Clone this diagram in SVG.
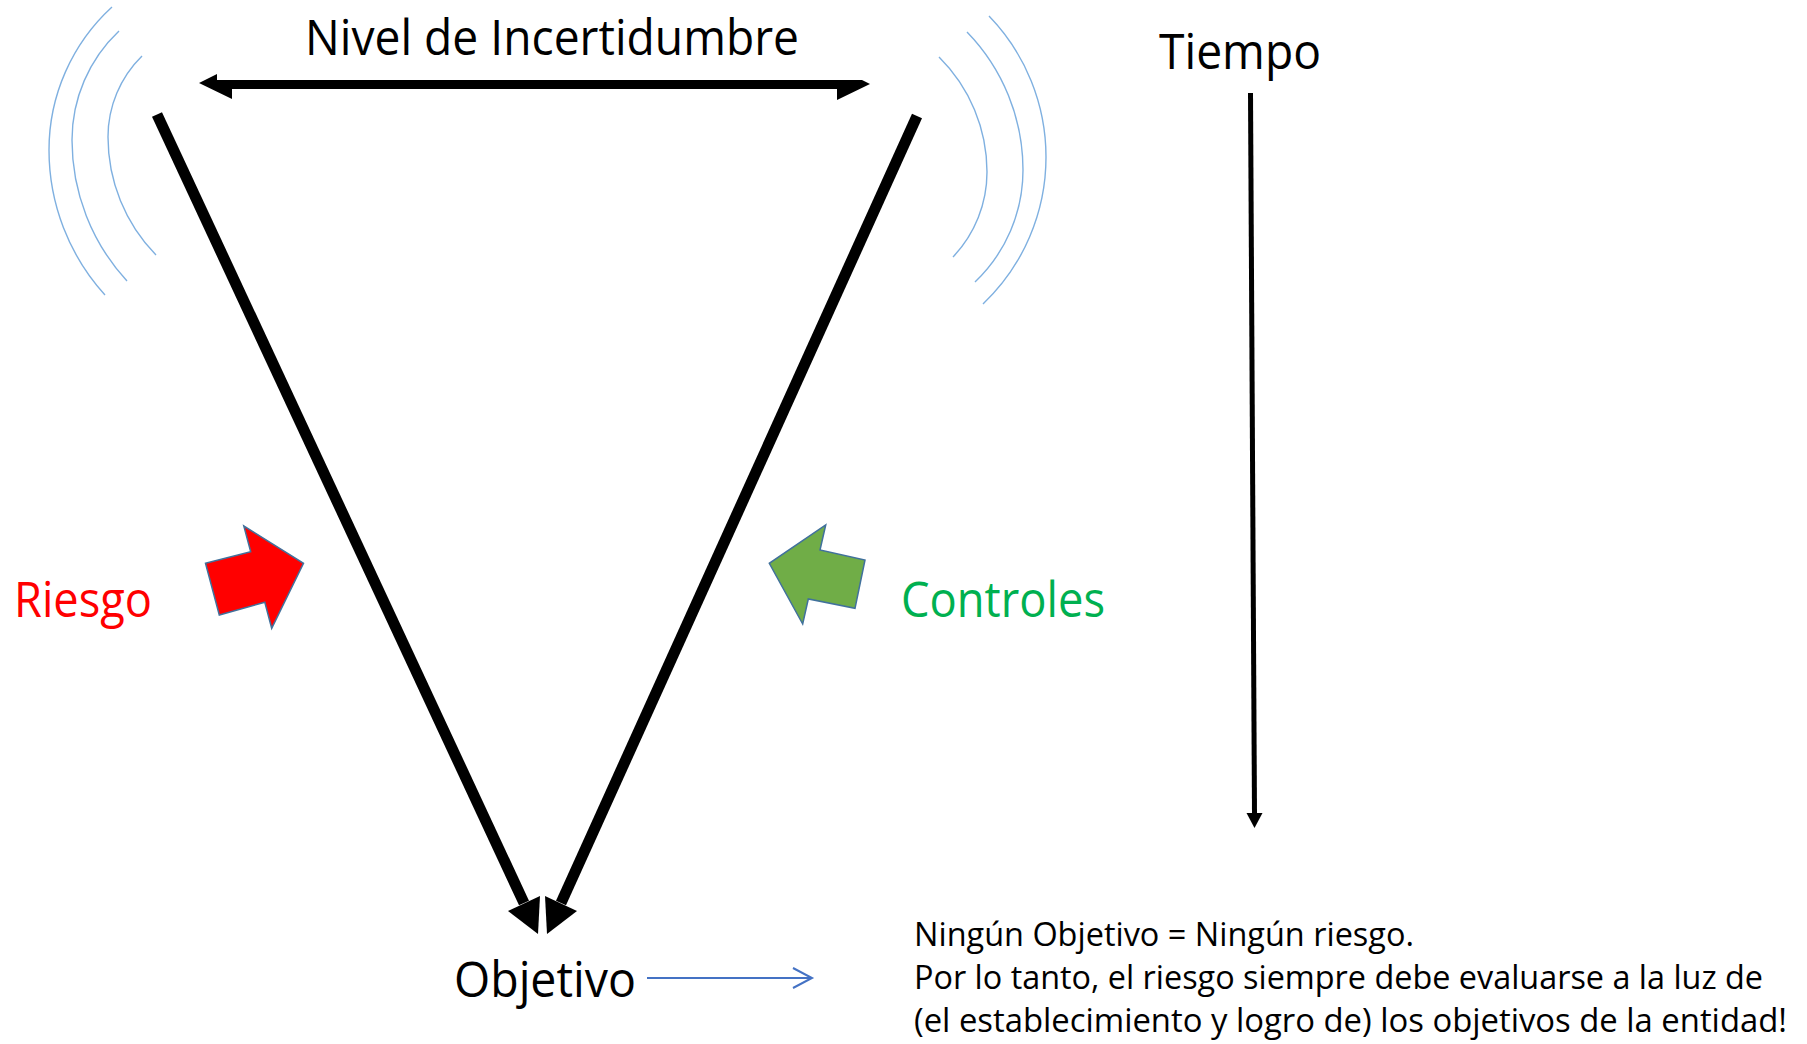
<svg xmlns="http://www.w3.org/2000/svg" width="1807" height="1044" viewBox="0 0 1807 1044">
<style>
  .t { font-family: 'Open Sans', 'Noto Sans', sans-serif; fill: #000; }
  .big { font-size: 49px; }
  .small { font-size: 33px; }
  .arc { fill: none; stroke: #7FB0E0; stroke-width: 1.4; }
  .thick { stroke: #000; stroke-width: 11; fill: none; stroke-linecap: butt; }
  .head { fill: #000; }
  .block { stroke: #41719C; stroke-width: 1.5; stroke-linejoin: miter; }
</style>
<rect width="1807" height="1044" fill="#fff"/>

<g id="waves-left">
  <path class="arc" d="M112 7 A193.8 193.8 0 0 0 49 150 A215.7 215.7 0 0 0 105 295"/>
  <path class="arc" d="M119 31 A149.9 149.9 0 0 0 72 140 A208.2 208.2 0 0 0 127 281"/>
  <path class="arc" d="M142 56 A113.5 113.5 0 0 0 108 137 A169 169 0 0 0 156 255"/>
</g>
<g id="waves-right">
  <path class="arc" d="M989 16 A202.9 202.9 0 0 1 1046 157 A203 203 0 0 1 983 304"/>
  <path class="arc" d="M967 32 A198 198 0 0 1 1023 170 A154.7 154.7 0 0 1 975 282"/>
  <path class="arc" d="M939 57 A161.8 161.8 0 0 1 987 172 A123.3 123.3 0 0 1 953 257"/>
</g>

<g id="connectors">
  <polygon class="head" points="199,83 217,74 217,80 862,80 870,84 837,100 837,89 232,89 232,99"/>
  <line class="thick" x1="157" y1="114.5" x2="524" y2="903"/>
  <polygon class="head" points="508,911 540,896 538,934"/>
  <line class="thick" x1="917" y1="116" x2="561" y2="903"/>
  <polygon class="head" points="577,911 545,896 547,934"/>
  <line x1="1250.5" y1="93" x2="1254.5" y2="815" stroke="#000" stroke-width="5"/>
  <polygon class="head" points="1246.5,813 1262.5,813 1254.5,828"/>
  <path d="M647 978 H811 M793 968 L812 978 L793 988" fill="none" stroke="#4472C4" stroke-width="2"/>
</g>

<g id="title">
  <text class="t big" x="305" y="55" textLength="494" lengthAdjust="spacingAndGlyphs">Nivel de Incertidumbre</text>
</g>
<g id="tiempo">
  <text class="t big" x="1159" y="69" textLength="162" lengthAdjust="spacingAndGlyphs">Tiempo</text>
</g>
<g id="riesgo">
  <polygon class="block" fill="#FF0000" points="205.5,563.3 250.7,551.7 243.8,526 303.5,563.3 271.7,628.3 264.8,602.3 219.3,615"/>
  <text class="t big" x="14" y="617" style="fill:#FF0000" textLength="138" lengthAdjust="spacingAndGlyphs">Riesgo</text>
</g>
<g id="controles">
  <polygon class="block" fill="#70AD47" points="825.7,525 820,550 865,560 855,608.3 808.3,599 802.7,624 769.3,563.3"/>
  <text class="t big" x="901" y="617" style="fill:#00B050" textLength="204" lengthAdjust="spacingAndGlyphs">Controles</text>
</g>
<g id="objetivo">
  <text class="t big" x="454" y="997" textLength="182" lengthAdjust="spacingAndGlyphs">Objetivo</text>
</g>
<g id="nota">
  <text class="t small" x="914" y="946" textLength="500" lengthAdjust="spacingAndGlyphs">Ningún Objetivo = Ningún riesgo.</text>
  <text class="t small" x="914" y="989" textLength="849" lengthAdjust="spacingAndGlyphs">Por lo tanto, el riesgo siempre debe evaluarse a la luz de</text>
  <text class="t small" x="914" y="1032" textLength="873" lengthAdjust="spacingAndGlyphs">(el establecimiento y logro de) los objetivos de la entidad!</text>
</g>
</svg>
